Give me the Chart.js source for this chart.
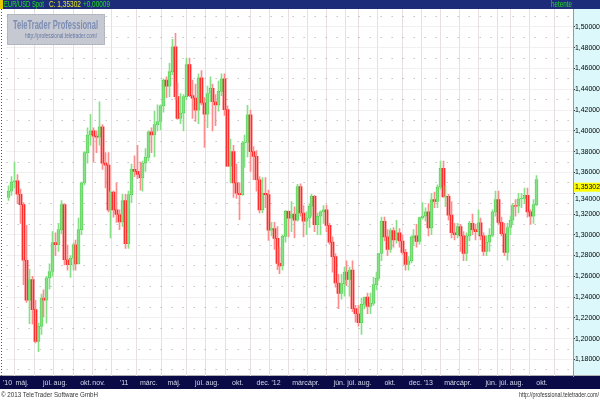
<!DOCTYPE html>
<html><head><meta charset="utf-8">
<script src="https://cdn.jsdelivr.net/npm/chart.js@4/dist/chart.umd.min.js"></script>
<style>html,body{margin:0;padding:0;background:#fff;overflow:hidden}canvas{display:block}</style>
</head><body>
<canvas id="c" width="600" height="400"></canvas>
<script>
// Weekly EUR/USD candles, first week starting 2010-03-29
const startWeek = '2010-03-29';
const openVals = [
1.3360,1.3420,1.3510,1.3520,1.3390,1.3290,1.2755,1.2370,1.2570,1.2280,
1.1975,1.2118,1.2390,1.2370,1.2585,1.2647,1.2925,1.2905,1.3050,1.3290,
1.2760,1.2712,1.2776,1.2904,1.2720,1.3050,1.3500,1.3790,1.3960,1.4000,
1.3950,1.3940,1.4040,1.3690,1.3670,1.3240,1.3410,1.3240,1.3195,1.3125,
1.3330,1.2915,1.3386,1.3630,1.3610,1.3580,1.3550,1.3690,1.3745,1.3990,
1.3960,1.4060,1.4090,1.4240,1.4490,1.4430,1.4570,1.4810,1.4330,1.4120,
1.4170,1.4330,1.4637,1.4340,1.4315,1.4200,1.4510,1.4270,1.4160,1.4360,
1.4410,1.4280,1.4250,1.4380,1.4500,1.4205,1.3660,1.3800,1.3500,1.3400,
1.3385,1.3883,1.3890,1.4155,1.3800,1.3754,1.3530,1.3240,1.3400,1.3386,
1.3045,1.3060,1.2965,1.2725,1.2700,1.2984,1.3225,1.3160,1.3200,1.3140,
1.3465,1.3210,1.3130,1.3160,1.3275,1.3370,1.3098,1.3180,1.3220,1.3240,
1.3090,1.2930,1.2790,1.2536,1.2435,1.2530,1.2640,1.2570,1.2660,1.2290,
1.2240,1.2155,1.2330,1.2400,1.2310,1.2340,1.2520,1.2580,1.2820,1.3130,
1.2980,1.2860,1.3040,1.2950,1.3020,1.2940,1.2830,1.2715,1.2750,1.2975,
1.2990,1.2935,1.3165,1.3180,1.3220,1.3065,1.3340,1.3320,1.3460,1.3640,
1.3365,1.3370,1.3190,1.3020,1.3000,1.3080,1.2990,1.2820,1.2990,1.3110,
1.3050,1.3030,1.3115,1.2990,1.2840,1.2930,1.2995,1.3220,1.3340,1.3120,
1.3010,1.2830,1.3070,1.3140,1.3280,1.3275,1.3345,1.3350,1.3380,1.3220,
1.3180,1.3290];
const highVals = [
1.3470,1.3560,1.3700,1.3580,1.3440,1.3310,1.3090,1.2670,1.2600,1.2370,
1.2150,1.2430,1.2470,1.2600,1.2720,1.3030,1.3020,1.3110,1.3330,1.3300,
1.2900,1.2800,1.2920,1.2950,1.3160,1.3510,1.3800,1.4030,1.4160,1.4030,
1.4000,1.4280,1.4060,1.3790,1.3790,1.3420,1.3420,1.3500,1.3240,1.3390,
1.3390,1.3420,1.3680,1.3760,1.3860,1.3700,1.3710,1.3830,1.4000,1.4030,
1.4190,1.4250,1.4250,1.4500,1.4520,1.4650,1.4880,1.4940,1.4460,1.4360,
1.4350,1.4700,1.4700,1.4490,1.4450,1.4550,1.4580,1.4320,1.4430,1.4520,
1.4450,1.4350,1.4480,1.4550,1.4550,1.4240,1.3920,1.3860,1.3680,1.3500,
1.3900,1.3960,1.4245,1.4200,1.3850,1.3810,1.3560,1.3550,1.3550,1.3430,
1.3120,1.3120,1.3080,1.2880,1.3000,1.3235,1.3230,1.3320,1.3270,1.3485,
1.3490,1.3280,1.3220,1.3300,1.3390,1.3380,1.3210,1.3230,1.3280,1.3285,
1.3110,1.2980,1.2820,1.2620,1.2620,1.2690,1.2750,1.2690,1.2750,1.2320,
1.2320,1.2390,1.2400,1.2440,1.2440,1.2590,1.2640,1.2820,1.3170,1.3170,
1.3050,1.3060,1.3070,1.3140,1.3060,1.3000,1.2860,1.2790,1.2990,1.3050,
1.3100,1.3170,1.3310,1.3260,1.3300,1.3400,1.3410,1.3480,1.3710,1.3710,
1.3470,1.3390,1.3320,1.3110,1.3110,1.3100,1.3030,1.3020,1.3130,1.3200,
1.3100,1.3240,1.3160,1.3020,1.2990,1.3060,1.3240,1.3420,1.3420,1.3170,
1.3110,1.3110,1.3180,1.3300,1.3340,1.3400,1.3400,1.3450,1.3450,1.3240,
1.3340,1.3570];
const lowVals = [
1.3330,1.3380,1.3450,1.3300,1.3110,1.2520,1.2350,1.2145,1.2140,1.1960,
1.1876,1.2040,1.2210,1.2150,1.2480,1.2600,1.2800,1.2840,1.3010,1.2710,
1.2660,1.2590,1.2660,1.2660,1.2720,1.3000,1.3480,1.3690,1.3860,1.3700,
1.3790,1.3860,1.3630,1.3450,1.3220,1.2970,1.3170,1.3120,1.3050,1.3080,
1.2870,1.2870,1.3310,1.3560,1.3540,1.3430,1.3420,1.3610,1.3710,1.3790,
1.3750,1.4000,1.4010,1.4180,1.4320,1.4330,1.4540,1.4300,1.4110,1.4070,
1.4000,1.4300,1.4330,1.4120,1.4090,1.4070,1.4250,1.3840,1.4030,1.4280,
1.4000,1.4050,1.4190,1.4340,1.4150,1.3655,1.3500,1.3360,1.3350,1.3145,
1.3380,1.3650,1.3750,1.3610,1.3530,1.3420,1.3210,1.3210,1.3260,1.2945,
1.2990,1.2860,1.2665,1.2625,1.2660,1.2930,1.2980,1.3030,1.2970,1.3130,
1.3180,1.2980,1.3000,1.3070,1.3180,1.3030,1.3000,1.3000,1.3110,1.3030,
1.2910,1.2640,1.2495,1.2288,1.2380,1.2410,1.2510,1.2410,1.2260,1.2160,
1.2120,1.2040,1.2290,1.2240,1.2240,1.2320,1.2470,1.2560,1.2750,1.2940,
1.2800,1.2830,1.2880,1.2920,1.2880,1.2810,1.2660,1.2660,1.2730,1.2900,
1.2880,1.2910,1.3150,1.3130,1.2990,1.3000,1.3260,1.3260,1.3440,1.3370,
1.3270,1.3140,1.2970,1.2950,1.2970,1.2840,1.2750,1.2750,1.2940,1.3000,
1.2950,1.3000,1.2950,1.2800,1.2800,1.2840,1.2980,1.3180,1.3100,1.2990,
1.2800,1.2755,1.3000,1.3100,1.3180,1.3210,1.3260,1.3300,1.3170,1.3100,
1.3110,1.3280];
const closeVals = [
1.3420,1.3510,1.3520,1.3390,1.3290,1.2755,1.2370,1.2570,1.2280,1.1975,
1.2118,1.2390,1.2370,1.2585,1.2647,1.2925,1.2905,1.3050,1.3290,1.2760,
1.2712,1.2776,1.2904,1.2720,1.3050,1.3500,1.3790,1.3960,1.4000,1.3950,
1.3940,1.4040,1.3690,1.3670,1.3240,1.3410,1.3240,1.3195,1.3125,1.3330,
1.2915,1.3386,1.3630,1.3610,1.3580,1.3550,1.3690,1.3745,1.3990,1.3960,
1.4060,1.4090,1.4240,1.4490,1.4430,1.4570,1.4810,1.4330,1.4120,1.4170,
1.4330,1.4637,1.4340,1.4315,1.4200,1.4510,1.4270,1.4160,1.4360,1.4410,
1.4280,1.4250,1.4380,1.4500,1.4205,1.3660,1.3800,1.3500,1.3400,1.3385,
1.3883,1.3890,1.4155,1.3800,1.3754,1.3530,1.3240,1.3400,1.3386,1.3045,
1.3060,1.2965,1.2725,1.2700,1.2984,1.3225,1.3160,1.3200,1.3140,1.3465,
1.3210,1.3130,1.3160,1.3275,1.3370,1.3098,1.3180,1.3220,1.3240,1.3090,
1.2930,1.2790,1.2536,1.2435,1.2530,1.2640,1.2570,1.2660,1.2290,1.2240,
1.2155,1.2330,1.2400,1.2310,1.2340,1.2520,1.2580,1.2820,1.3130,1.2980,
1.2860,1.3040,1.2950,1.3020,1.2940,1.2830,1.2715,1.2750,1.2975,1.2990,
1.2935,1.3165,1.3180,1.3220,1.3065,1.3340,1.3320,1.3460,1.3640,1.3365,
1.3370,1.3190,1.3020,1.3000,1.3080,1.2990,1.2820,1.2990,1.3110,1.3050,
1.3030,1.3115,1.2990,1.2840,1.2930,1.2995,1.3220,1.3340,1.3120,1.3010,
1.2830,1.3070,1.3140,1.3280,1.3275,1.3345,1.3350,1.3380,1.3220,1.3180,
1.3290,1.35302];

const yTickValues = [1.18,1.20,1.22,1.24,1.26,1.28,1.30,1.32,1.34,1.36,1.38,1.40,1.42,1.44,1.46,1.48,1.50];
const yMinorValues = [1.17,1.19,1.21,1.23,1.25,1.27,1.29,1.31,1.33,1.35,1.37,1.39,1.41,1.43,1.45,1.47,1.49,1.51];
const xTickDates = ['2010-03-27','2010-05-01','2010-07-01','2010-08-01','2010-10-01','2010-11-01','2011-01-01','2011-03-01','2011-05-01','2011-07-01','2011-08-01','2011-10-01','2011-12-01','2012-01-01','2012-03-01','2012-04-01','2012-06-01','2012-07-01','2012-08-01','2012-10-01','2012-12-01','2013-01-01','2013-03-01','2013-04-01','2013-06-01','2013-07-01','2013-08-01','2013-10-01'];
const xTickLabels = ["'10",'máj.','júl.','aug.','okt.','nov.',"'11",'márc.','máj.','júl.','aug.','okt.','dec.',"'12",'márc.','ápr.','jún.','júl.','aug.','okt.','dec.',"'13",'márc.','ápr.','jún.','júl.','aug.','okt.'];
const lastPrice = 1.35302;
const priceChange = '+0,00009';

const WEEK = 7*86400000;
const weekPos = d => (Date.parse(d) - Date.parse(startWeek)) / WEEK - 0.2;
const fmt = v => v.toFixed(5).replace('.', ',');

const UP_FILL = '#c6f3c0', UP_LINE = '#30c830', DOWN_FILL = '#ff0000';
const UP_WICK = '#86e086', DOWN_WICK = '#ff8c8c';
const GRID = '#e6e0e2';
const FONT = "'Liberation Sans',Arial,sans-serif";

const idx = closeVals.map((_, i) => i);
const isUp = i => closeVals[i] >= openVals[i];
let hiddenTick = null;

// align candle centres to the pixel grid so bodies stay crisp
const snap = {
  id: 'snap',
  beforeDatasetsDraw(chart) {
    chart.data.datasets.forEach((ds, di) => {
      chart.getDatasetMeta(di).data.forEach(el => { el.x = Math.floor(el.x) + 0.5; });
    });
  }
};

const decor = {
  id: 'decor',
  beforeDraw(chart) {
    const c = chart.ctx, a = chart.chartArea;
    c.save();
    c.fillStyle = '#fff'; c.fillRect(0, 0, 600, 400);
    c.fillStyle = '#1c2c78'; c.fillRect(0, 0, 600, a.top);
    c.fillStyle = '#e8c800'; c.fillRect(0, 0, 3, a.top);
    c.fillStyle = '#dcf8fb'; c.fillRect(a.right, a.top, 600 - a.right, a.bottom - a.top);
    c.fillStyle = '#b0b0b0'; c.fillRect(0, a.bottom - 1, 600, 1);
    c.fillStyle = '#0a0a46'; c.fillRect(0, a.bottom, 600, 13);
    c.restore();
  },
  afterDraw(chart) {
    const c = chart.ctx, a = chart.chartArea;
    const y = chart.scales.y;
    c.save();
    // left dotted border
    c.strokeStyle = '#555'; c.lineWidth = 1; c.setLineDash([1, 2]);
    c.beginPath(); c.moveTo(1.5, a.top); c.lineTo(1.5, a.bottom); c.stroke();
    c.setLineDash([]);
    // header
    c.font = '9px ' + FONT; c.textBaseline = 'middle'; c.textAlign = 'left';
    c.fillStyle = '#22dd22'; c.fillText('EUR/USD Spot', 4, 5, 40);
    c.fillStyle = '#e8e820'; c.fillText('C: ' + fmt(lastPrice), 49, 5, 32);
    c.fillStyle = '#22dd22'; c.fillText(priceChange, 83, 5, 27);
    c.fillText('hetente', 551, 5, 21);
    // logo
    c.fillStyle = '#c6c9d1'; c.fillRect(7, 14, 98, 31);
    c.strokeStyle = '#a9adb8'; c.setLineDash([2, 1]);
    c.strokeRect(7.5, 14.5, 97, 30); c.setLineDash([]);
    c.fillStyle = '#7d8db5'; c.font = 'bold 12px ' + FONT;
    c.fillText('TeleTrader Professional', 13, 26, 85);
    c.fillStyle = '#6677a4'; c.font = '7px ' + FONT;
    c.fillText('http://professional.teletrader.com/', 25, 36, 72);
    // price box
    const py = y.getPixelForValue(lastPrice);
    c.fillStyle = '#ffff00'; c.fillRect(a.right + 1, py + 3, 600 - a.right - 1, 9);
    c.fillStyle = '#000'; c.font = '7px ' + FONT;
    c.fillText(fmt(lastPrice), a.right + 2, py + 7.8, 25);
    // tick label moved below the price box
    if (hiddenTick !== null) {
      c.fillText(fmt(hiddenTick), a.right + 2, py + 19, 25);
    }
    // footer
    c.fillStyle = '#333'; c.font = '8px ' + FONT;
    c.fillText('© 2013 TeleTrader Software GmbH', 1, 395, 97);
    c.textAlign = 'right';
    c.fillText('http://professional.teletrader.com/', 599, 395, 80);
    c.restore();
  }
};

new Chart(document.getElementById('c'), {
  type: 'bar',
  data: {
    datasets: [
      {
        label: 'wick',
        data: idx.map(i => ({ x: i, y: [lowVals[i], highVals[i]] })),
        backgroundColor: idx.map(i => isUp(i) ? UP_WICK : DOWN_WICK),
        barThickness: 1, grouped: false, borderWidth: 0,
        xAxisID: 'x', yAxisID: 'y'
      },
      {
        label: 'body',
        data: idx.map(i => ({ x: i, y: [openVals[i], closeVals[i]] })),
        backgroundColor: idx.map(i => isUp(i) ? UP_FILL : DOWN_FILL),
        borderColor: idx.map(i => isUp(i) ? UP_LINE : DOWN_FILL),
        borderWidth: idx.map(i => isUp(i) ? 1 : 0),
        borderSkipped: false,
        barThickness: 3, grouped: false,
        xAxisID: 'x', yAxisID: 'y'
      }
    ]
  },
  options: {
    responsive: false, animation: false, devicePixelRatio: 1,
    layout: { padding: { left: 3, right: 0, top: 9, bottom: 11 } },
    plugins: { legend: { display: false }, tooltip: { enabled: false } },
    events: [],
    scales: {
      x: {
        type: 'linear', min: -0.8, max: 193.6, offset: false,
        afterBuildTicks: s => { s.ticks = xTickDates.map(d => ({ value: weekPos(d) })); },
        afterFit: s => { s.height = 13; },
        ticks: {
          autoSkip: false, maxRotation: 0, minRotation: 0, padding: 3,
          color: '#d4d8ea', font: { size: 7, family: FONT },
          callback: (v, i) => xTickLabels[i]
        },
        grid: {
          color: c => c.index === 0 ? 'rgba(0,0,0,0)' : GRID,
          drawTicks: false, lineWidth: 1
        },
        border: { display: false }
      },
      yMinor: {
        position: 'right', min: 1.1641, max: 1.5173,
        afterBuildTicks: s => { s.ticks = yMinorValues.map(v => ({ value: v })); },
        afterFit: s => { s.width = 0; },
        ticks: { display: false },
        grid: { color: '#a8a8a8', drawTicks: false, lineWidth: 1 },
        border: { display: false, dash: [1, 10] }
      },
      y: {
        position: 'right', min: 1.1641, max: 1.5173,
        afterBuildTicks: s => { s.ticks = yTickValues.map(v => ({ value: v })); },
        afterFit: s => { s.width = 27; },
        ticks: {
          color: '#000', padding: 0, font: { size: 6.9, family: FONT },
          callback: function (v) {
            const py = this.getPixelForValue(lastPrice) + 7.5;
            if (Math.abs(this.getPixelForValue(v) - py) < 8) { hiddenTick = v; return ''; }
            return fmt(v);
          }
        },
        grid: { color: GRID, tickColor: '#333', tickLength: 2, lineWidth: 1 },
        border: { display: true, color: '#b89a40', dash: [1, 1] }
      }
    }
  },
  plugins: [snap, decor]
});
</script>
</body></html>
